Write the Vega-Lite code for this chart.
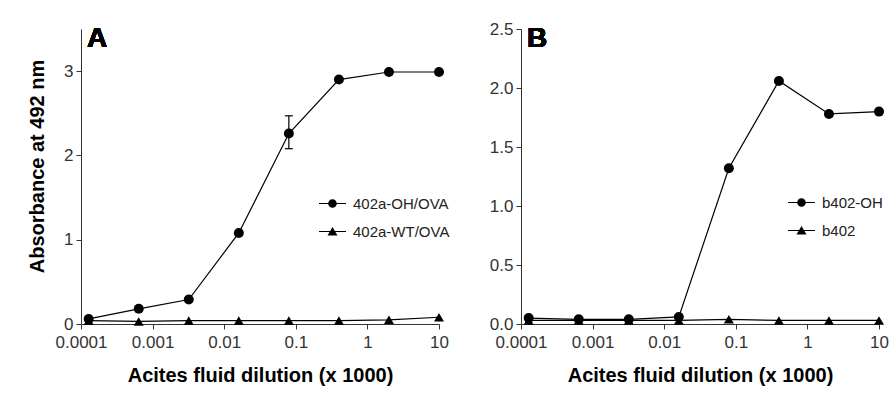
{
  "$schema": "https://vega.github.io/schema/vega-lite/v6.json",
  "background": "white",
  "padding": {"left": 27, "top": 20, "right": 2, "bottom": 5},
  "spacing": 82,
  "bounds": "flush",
  "config": {
    "view": {"stroke": null},
    "axis": {
      "grid": false,
      "labelFont": "Liberation Sans",
      "labelFontSize": 17,
      "labelColor": "#333333",
      "domainColor": "#333333",
      "tickColor": "#333333",
      "tickSize": 5,
      "labelPadding": 3,
      "labelFlush": false,
      "labelOverlap": false,
      "titleFont": "Liberation Sans",
      "titleFontSize": 20,
      "titleFontWeight": "bold",
      "titleColor": "#000000"
    },
    "axisX": {"labelPadding": 5},
    "legend": {
      "orient": "none",
      "title": null,
      "symbolSize": 729,
      "rowPadding": 6,
      "labelOffset": 7,
      "labelFontSize": 15,
      "labelFont": "Liberation Sans",
      "labelColor": "#222222",
      "symbolFillColor": "black",
      "symbolStrokeColor": "black",
      "symbolStrokeWidth": 0,
      "symbolOpacity": 1
    }
  },
  "hconcat": [
    {
      "width": 358,
      "height": 295,
      "data": {"values": [
        {"series": "402a-WT/OVA", "x": 0.000128, "y": 0.04},
        {"series": "402a-WT/OVA", "x": 0.00064, "y": 0.03},
        {"series": "402a-WT/OVA", "x": 0.0032, "y": 0.04},
        {"series": "402a-WT/OVA", "x": 0.016, "y": 0.04},
        {"series": "402a-WT/OVA", "x": 0.08, "y": 0.04},
        {"series": "402a-WT/OVA", "x": 0.4, "y": 0.04},
        {"series": "402a-WT/OVA", "x": 2, "y": 0.05},
        {"series": "402a-WT/OVA", "x": 10, "y": 0.08},
        {"series": "402a-OH/OVA", "x": 0.000128, "y": 0.06},
        {"series": "402a-OH/OVA", "x": 0.00064, "y": 0.18},
        {"series": "402a-OH/OVA", "x": 0.0032, "y": 0.29},
        {"series": "402a-OH/OVA", "x": 0.016, "y": 1.08},
        {"series": "402a-OH/OVA", "x": 0.08, "y": 2.26},
        {"series": "402a-OH/OVA", "x": 0.4, "y": 2.9},
        {"series": "402a-OH/OVA", "x": 2, "y": 2.99},
        {"series": "402a-OH/OVA", "x": 10, "y": 2.99}
      ]},
      "layer": [
        {
          "mark": {"type": "line", "color": "black", "strokeWidth": 1.2},
          "encoding": {
            "x": {"field": "x", "type": "quantitative", "scale": {"type": "log", "domain": [0.0001, 10], "nice": false},
                  "axis": {"values": [0.0001, 0.001, 0.01, 0.1, 1, 10], "format": "~g", "title": "Acites fluid dilution (x 1000)", "titlePadding": 15}},
            "y": {"field": "y", "type": "quantitative", "scale": {"domain": [0, 3.5], "nice": false},
                  "axis": {"values": [0, 1, 2, 3], "format": "d", "title": "Absorbance at 492 nm", "titlePadding": 16, "titleY": 137}},
            "detail": {"field": "series"}
          }
        },
        {
          "transform": [{"filter": "datum.series === '402a-WT/OVA'"}],
          "mark": {"type": "point", "shape": "triangle-up", "filled": true, "color": "black", "opacity": 1, "size": 100},
          "encoding": {
            "x": {"field": "x", "type": "quantitative"},
            "y": {"field": "y", "type": "quantitative"}
          }
        },
        {
          "transform": [{"filter": "datum.series === '402a-OH/OVA'"}],
          "mark": {"type": "point", "shape": "circle", "filled": true, "color": "black", "opacity": 1, "size": 100},
          "encoding": {
            "x": {"field": "x", "type": "quantitative"},
            "y": {"field": "y", "type": "quantitative"}
          }
        },
        {
          "mark": {"type": "point", "filled": true, "color": "black", "size": 0},
          "encoding": {
            "x": {"field": "x", "type": "quantitative"},
            "y": {"field": "y", "type": "quantitative"},
            "shape": {"field": "series", "type": "nominal",
              "scale": {"domain": ["402a-OH/OVA", "402a-WT/OVA"],
                        "range": ["M-1,-0.04H1V0.04H-1ZM0.32,0A0.32,0.32,0,1,1,-0.32,0A0.32,0.32,0,1,1,0.32,0Z", "M-1,-0.04H1V0.04H-1ZM0,-0.34L0.37,0.29L-0.37,0.29Z"]},
              "legend": {"legendX": 238, "legendY": 161}
            }
          }
        },
        {
          "data": {"values": [{"x": 0.08, "lo": 2.08, "hi": 2.47}]},
          "mark": {"type": "rule", "color": "black", "strokeWidth": 1.2},
          "encoding": {
            "x": {"field": "x", "type": "quantitative"},
            "y": {"field": "lo", "type": "quantitative"},
            "y2": {"field": "hi"}
          }
        },
        {
          "data": {"values": [{"x": 0.08, "v": 2.08}, {"x": 0.08, "v": 2.47}]},
          "mark": {"type": "tick", "orient": "horizontal", "size": 8, "thickness": 1.2, "color": "black", "opacity": 1},
          "encoding": {
            "x": {"field": "x", "type": "quantitative"},
            "y": {"field": "v", "type": "quantitative"}
          }
        },
        {
          "mark": {"type": "text", "text": "A", "font": "Liberation Sans", "fontSize": 28, "fontWeight": "bold", "align": "left", "baseline": "alphabetic", "dx": 6, "dy": 18, "color": "black"},
          "encoding": {
            "x": {"datum": 0.0001, "type": "quantitative"},
            "y": {"datum": 3.5, "type": "quantitative"}
          }
        }
      ]
    },
    {
      "width": 358,
      "height": 295,
      "data": {"values": [
        {"series": "b402", "x": 0.000128, "y": 0.03},
        {"series": "b402", "x": 0.00064, "y": 0.03},
        {"series": "b402", "x": 0.0032, "y": 0.03},
        {"series": "b402", "x": 0.016, "y": 0.03},
        {"series": "b402", "x": 0.08, "y": 0.04},
        {"series": "b402", "x": 0.4, "y": 0.03},
        {"series": "b402", "x": 2, "y": 0.03},
        {"series": "b402", "x": 10, "y": 0.03},
        {"series": "b402-OH", "x": 0.000128, "y": 0.05},
        {"series": "b402-OH", "x": 0.00064, "y": 0.04},
        {"series": "b402-OH", "x": 0.0032, "y": 0.04},
        {"series": "b402-OH", "x": 0.016, "y": 0.06},
        {"series": "b402-OH", "x": 0.08, "y": 1.32},
        {"series": "b402-OH", "x": 0.4, "y": 2.06},
        {"series": "b402-OH", "x": 2, "y": 1.78},
        {"series": "b402-OH", "x": 10, "y": 1.8}
      ]},
      "layer": [
        {
          "mark": {"type": "line", "color": "black", "strokeWidth": 1.2},
          "encoding": {
            "x": {"field": "x", "type": "quantitative", "scale": {"type": "log", "domain": [0.0001, 10], "nice": false},
                  "axis": {"values": [0.0001, 0.001, 0.01, 0.1, 1, 10], "format": "~g", "title": "Acites fluid dilution (x 1000)", "titlePadding": 15}},
            "y": {"field": "y", "type": "quantitative", "scale": {"domain": [0, 2.5], "nice": false},
                  "axis": {"values": [0, 0.5, 1, 1.5, 2, 2.5], "format": ".1f", "title": null}},
            "detail": {"field": "series"}
          }
        },
        {
          "transform": [{"filter": "datum.series === 'b402'"}],
          "mark": {"type": "point", "shape": "triangle-up", "filled": true, "color": "black", "opacity": 1, "size": 100},
          "encoding": {
            "x": {"field": "x", "type": "quantitative"},
            "y": {"field": "y", "type": "quantitative"}
          }
        },
        {
          "transform": [{"filter": "datum.series === 'b402-OH'"}],
          "mark": {"type": "point", "shape": "circle", "filled": true, "color": "black", "opacity": 1, "size": 100},
          "encoding": {
            "x": {"field": "x", "type": "quantitative"},
            "y": {"field": "y", "type": "quantitative"}
          }
        },
        {
          "mark": {"type": "point", "filled": true, "color": "black", "size": 0},
          "encoding": {
            "x": {"field": "x", "type": "quantitative"},
            "y": {"field": "y", "type": "quantitative"},
            "shape": {"field": "series", "type": "nominal",
              "scale": {"domain": ["b402-OH", "b402"],
                        "range": ["M-1,-0.04H1V0.04H-1ZM0.32,0A0.32,0.32,0,1,1,-0.32,0A0.32,0.32,0,1,1,0.32,0Z", "M-1,-0.04H1V0.04H-1ZM0,-0.34L0.37,0.29L-0.37,0.29Z"]},
              "legend": {"legendX": 267, "legendY": 160}
            }
          }
        },
        {
          "mark": {"type": "text", "text": "B", "font": "Liberation Sans", "fontSize": 28, "fontWeight": "bold", "align": "left", "baseline": "alphabetic", "dx": 6, "dy": 18, "color": "black"},
          "encoding": {
            "x": {"datum": 0.0001, "type": "quantitative"},
            "y": {"datum": 2.5, "type": "quantitative"}
          }
        }
      ]
    }
  ],
  "resolve": {"scale": {"shape": "independent"}, "legend": {"shape": "independent"}}
}
